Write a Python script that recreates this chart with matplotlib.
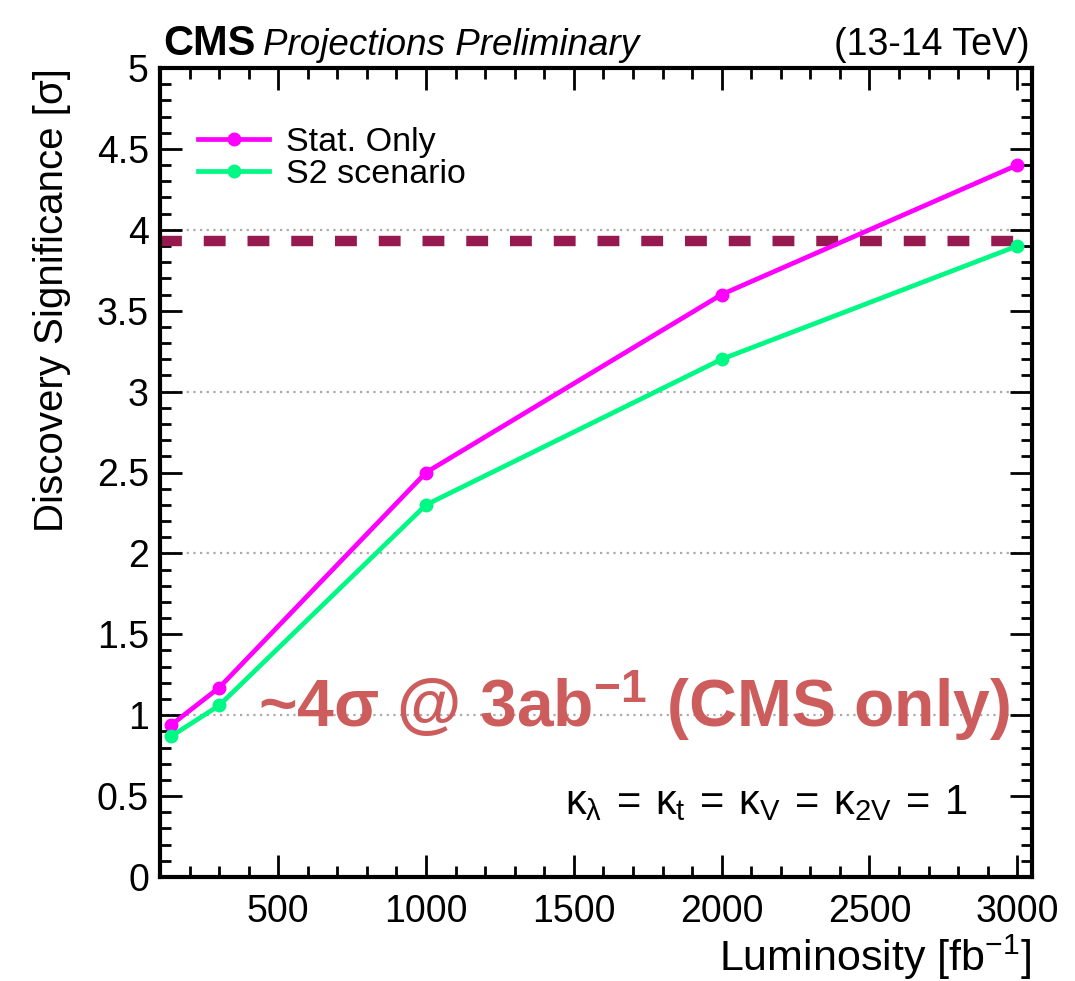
import matplotlib
matplotlib.use("Agg")
import matplotlib.pyplot as plt
from matplotlib.ticker import MultipleLocator, FuncFormatter

plt.rcParams['font.family'] = ['Liberation Sans', 'DejaVu Sans']
plt.rcParams['mathtext.fontset'] = 'custom'
plt.rcParams['mathtext.rm'] = 'Liberation Sans'
plt.rcParams['mathtext.it'] = 'Liberation Sans'
plt.rcParams['mathtext.bf'] = 'Liberation Sans:bold'

# Integrated luminosity [fb^-1] and discovery significance
lumi = [138, 300, 1000, 2000, 3000]
stat_only = [0.94, 1.17, 2.50, 3.60, 4.40]
s2_scenario = [0.87, 1.06, 2.30, 3.20, 3.90]
series_labels = ["Stat. Only", "S2 scenario"]
grid_levels = [1, 2, 3, 4]
reference_level = 3.93
xticks = [500, 1000, 1500, 2000, 2500, 3000]

W, H = 1075, 981
fig = plt.figure(figsize=(W / 100, H / 100), dpi=100)
ax = fig.add_axes([160 / W, 1 - 877 / H, (1032 - 160) / W, (877 - 68) / H])

ax.set_xlim(100, 3050)
ax.set_ylim(0, 5)

for g in grid_levels:
    ax.axhline(g, color='#aaaaaa', lw=1.6, ls=(0, (1, 2)), zorder=1)

ax.hlines(reference_level, 100, 3000, color='#961A4F', lw=7.5,
          linestyles=(0, (2.1, 2.1)), zorder=2)

ax.plot(lumi, stat_only, color='#FF00FF', lw=3.4, marker='o', ms=9,
        label=series_labels[0], zorder=3)
ax.plot(lumi, s2_scenario, color='#00F884', lw=3.4, marker='o', ms=9,
        label=series_labels[1], zorder=3)

# axes styling
for s in ax.spines.values():
    s.set_linewidth(3)
ax.xaxis.set_major_locator(MultipleLocator(500))
ax.xaxis.set_minor_locator(MultipleLocator(100))
ax.yaxis.set_major_locator(MultipleLocator(0.5))
ax.yaxis.set_minor_locator(MultipleLocator(0.1))
ax.set_xticks(xticks)
ax.yaxis.set_major_formatter(FuncFormatter(lambda v, p: f"{v:g}"))
ax.tick_params(which='both', direction='in', top=True, right=True,
               labelsize=27, width=2)
ax.tick_params(which='major', length=16)
ax.tick_params(which='minor', length=8)
ax.tick_params(axis='x', pad=12)
ax.tick_params(axis='y', pad=8)

leg = ax.legend(loc='upper left', bbox_to_anchor=((198 - 160) / 872, (877 - 127) / 809),
                frameon=False, fontsize=24.5, handlelength=2.1, handletextpad=0.5,
                labelspacing=0.02, borderpad=0, borderaxespad=0)

# annotations
ax.text((258 - 160) / 872, (877 - 706) / 809,
        r'~4σ @ 3ab$^{\mathbf{-1}}$ (CMS only)', transform=ax.transAxes,
        color='#CD5C5C', fontsize=47.5, fontweight='bold', ha='left', va='center')
ax.text((968 - 160) / 872, (877 - 803) / 809,
        r'$\kappa_{\lambda}\:=\:\kappa_{t}\:=\:\kappa_{V}\:=\:\kappa_{2V}\:=\:1$',
        transform=ax.transAxes, fontsize=30, ha='right', va='center')

fig.text(163 / W, 1 - 55 / H, 'CMS', fontsize=30, fontweight='bold',
         ha='left', va='baseline')
fig.text(263 / W, 1 - 55 / H, 'Projections Preliminary', fontsize=26.5,
         style='italic', ha='left', va='baseline')
fig.text(1030 / W, 1 - 55 / H, '(13-14 TeV)', fontsize=27,
         ha='right', va='baseline')

fig.text(1031 / W, 1 - 971 / H, r'Luminosity [fb$^{-1}$]', fontsize=31,
         ha='right', va='baseline')
fig.text(52 / W, 1 - 68 / H, 'Discovery Significance [σ]', fontsize=29,
         rotation=90, ha='center', va='top')

fig.savefig('out.png', dpi=100)
